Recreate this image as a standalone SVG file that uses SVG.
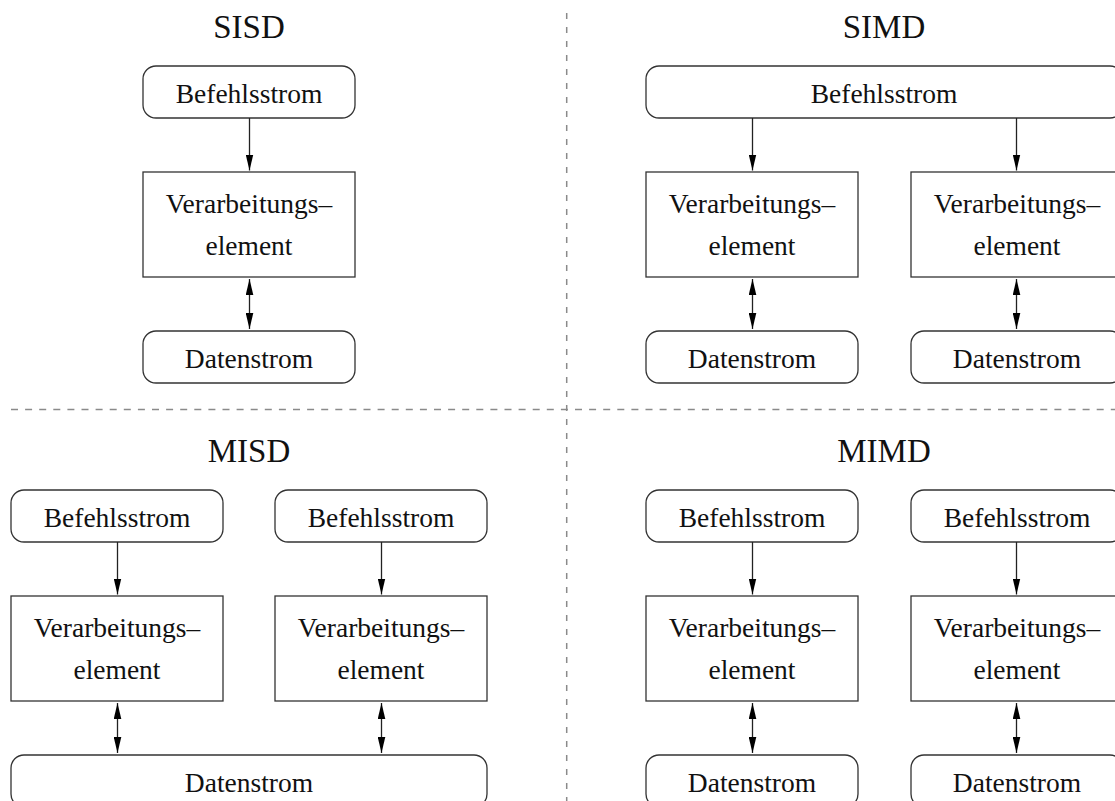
<svg xmlns="http://www.w3.org/2000/svg" width="1115" height="801" viewBox="0 0 1115 801">
  <style>
    .bg { fill: #ffffff; }
    .sep { stroke: #8a8a8a; stroke-width: 1.5; fill: none; }
    .sep-h { stroke-dasharray: 7 7.1; }
    .sep-v { stroke-dasharray: 6 8; }
    .stream { fill: #ffffff; stroke: #333333; stroke-width: 1.3; }
    .pe { fill: #ffffff; stroke: #333333; stroke-width: 1.3; }
    .lbl { font-family: "Liberation Serif", "Times New Roman", serif; font-size: 27.5px; fill: #111111; text-anchor: middle; }
    .title { font-family: "Liberation Serif", "Times New Roman", serif; font-size: 33px; fill: #111111; text-anchor: middle; }
    .flow { stroke: #222222; stroke-width: 1.3; fill: none; }
    .one { marker-end: url(#head); }
    .two { marker-start: url(#head); marker-end: url(#head); }
  </style>
  <defs>
    <marker id="head" viewBox="0 0 16 8" refX="16" refY="4" markerWidth="16" markerHeight="8" markerUnits="userSpaceOnUse" orient="auto-start-reverse">
      <path d="M0,0.2 L16,4 L0,7.8 z" fill="#000000"/>
    </marker>
  </defs>

  <rect class="bg" x="0" y="0" width="1115" height="801"/>

  <!-- quadrant separators -->
  <g id="separators">
    <line class="sep sep-h" x1="11" y1="409.5" x2="1115" y2="409.5"/>
    <line class="sep sep-v" x1="566.7" y1="13" x2="566.7" y2="801"/>
  </g>

  <!-- titles -->
  <g id="titles">
    <text class="title" x="249" y="38">SISD</text>
    <text class="title" x="884" y="38">SIMD</text>
    <text class="title" x="249" y="462">MISD</text>
    <text class="title" x="884" y="462">MIMD</text>
  </g>

  <!-- SISD -->
  <g id="sisd-instr">
    <rect class="stream" x="143" y="66" width="212" height="52" rx="13"/>
    <text class="lbl" x="249" y="103">Befehlsstrom</text>
  </g>
  <g id="sisd-pe">
    <rect class="pe" x="143" y="172" width="212" height="105"/>
    <text class="lbl" x="249" y="213">Verarbeitungs–</text>
    <text class="lbl" x="249" y="255">element</text>
  </g>
  <g id="sisd-data">
    <rect class="stream" x="143" y="331" width="212" height="52" rx="13"/>
    <text class="lbl" x="249" y="368">Datenstrom</text>
  </g>

  <!-- SIMD -->
  <g id="simd-instr">
    <rect class="stream" x="646" y="66" width="477" height="52" rx="13"/>
    <text class="lbl" x="884" y="103">Befehlsstrom</text>
  </g>
  <g id="simd-pe1">
    <rect class="pe" x="646" y="172" width="212" height="105"/>
    <text class="lbl" x="752" y="213">Verarbeitungs–</text>
    <text class="lbl" x="752" y="255">element</text>
  </g>
  <g id="simd-pe2">
    <rect class="pe" x="911" y="172" width="212" height="105"/>
    <text class="lbl" x="1017" y="213">Verarbeitungs–</text>
    <text class="lbl" x="1017" y="255">element</text>
  </g>
  <g id="simd-data1">
    <rect class="stream" x="646" y="331" width="212" height="52" rx="13"/>
    <text class="lbl" x="752" y="368">Datenstrom</text>
  </g>
  <g id="simd-data2">
    <rect class="stream" x="911" y="331" width="212" height="52" rx="13"/>
    <text class="lbl" x="1017" y="368">Datenstrom</text>
  </g>

  <!-- MISD -->
  <g id="misd-instr1">
    <rect class="stream" x="11" y="490" width="212" height="52" rx="13"/>
    <text class="lbl" x="117" y="527">Befehlsstrom</text>
  </g>
  <g id="misd-instr2">
    <rect class="stream" x="275" y="490" width="212" height="52" rx="13"/>
    <text class="lbl" x="381" y="527">Befehlsstrom</text>
  </g>
  <g id="misd-pe1">
    <rect class="pe" x="11" y="596" width="212" height="105"/>
    <text class="lbl" x="117" y="637">Verarbeitungs–</text>
    <text class="lbl" x="117" y="679">element</text>
  </g>
  <g id="misd-pe2">
    <rect class="pe" x="275" y="596" width="212" height="105"/>
    <text class="lbl" x="381" y="637">Verarbeitungs–</text>
    <text class="lbl" x="381" y="679">element</text>
  </g>
  <g id="misd-data">
    <rect class="stream" x="11" y="755" width="476" height="52" rx="13"/>
    <text class="lbl" x="249" y="792">Datenstrom</text>
  </g>

  <!-- MIMD -->
  <g id="mimd-instr1">
    <rect class="stream" x="646" y="490" width="212" height="52" rx="13"/>
    <text class="lbl" x="752" y="527">Befehlsstrom</text>
  </g>
  <g id="mimd-instr2">
    <rect class="stream" x="911" y="490" width="212" height="52" rx="13"/>
    <text class="lbl" x="1017" y="527">Befehlsstrom</text>
  </g>
  <g id="mimd-pe1">
    <rect class="pe" x="646" y="596" width="212" height="105"/>
    <text class="lbl" x="752" y="637">Verarbeitungs–</text>
    <text class="lbl" x="752" y="679">element</text>
  </g>
  <g id="mimd-pe2">
    <rect class="pe" x="911" y="596" width="212" height="105"/>
    <text class="lbl" x="1017" y="637">Verarbeitungs–</text>
    <text class="lbl" x="1017" y="679">element</text>
  </g>
  <g id="mimd-data1">
    <rect class="stream" x="646" y="755" width="212" height="52" rx="13"/>
    <text class="lbl" x="752" y="792">Datenstrom</text>
  </g>
  <g id="mimd-data2">
    <rect class="stream" x="911" y="755" width="212" height="52" rx="13"/>
    <text class="lbl" x="1017" y="792">Datenstrom</text>
  </g>

  <!-- connectors: instruction flow (one-way) and data exchange (two-way) -->
  <g id="connectors">
    <line class="flow one" x1="249.5" y1="118" x2="249.5" y2="170.5"/>
    <line class="flow two" x1="249.5" y1="279" x2="249.5" y2="329"/>

    <line class="flow one" x1="752.5" y1="118" x2="752.5" y2="170.5"/>
    <line class="flow one" x1="1016.5" y1="118" x2="1016.5" y2="170.5"/>
    <line class="flow two" x1="752.5" y1="279" x2="752.5" y2="329"/>
    <line class="flow two" x1="1016.5" y1="279" x2="1016.5" y2="329"/>

    <line class="flow one" x1="117.5" y1="542" x2="117.5" y2="594.5"/>
    <line class="flow one" x1="381.5" y1="542" x2="381.5" y2="594.5"/>
    <line class="flow two" x1="117.5" y1="703" x2="117.5" y2="753"/>
    <line class="flow two" x1="381.5" y1="703" x2="381.5" y2="753"/>

    <line class="flow one" x1="752.5" y1="542" x2="752.5" y2="594.5"/>
    <line class="flow one" x1="1016.5" y1="542" x2="1016.5" y2="594.5"/>
    <line class="flow two" x1="752.5" y1="703" x2="752.5" y2="753"/>
    <line class="flow two" x1="1016.5" y1="703" x2="1016.5" y2="753"/>
  </g>
</svg>
